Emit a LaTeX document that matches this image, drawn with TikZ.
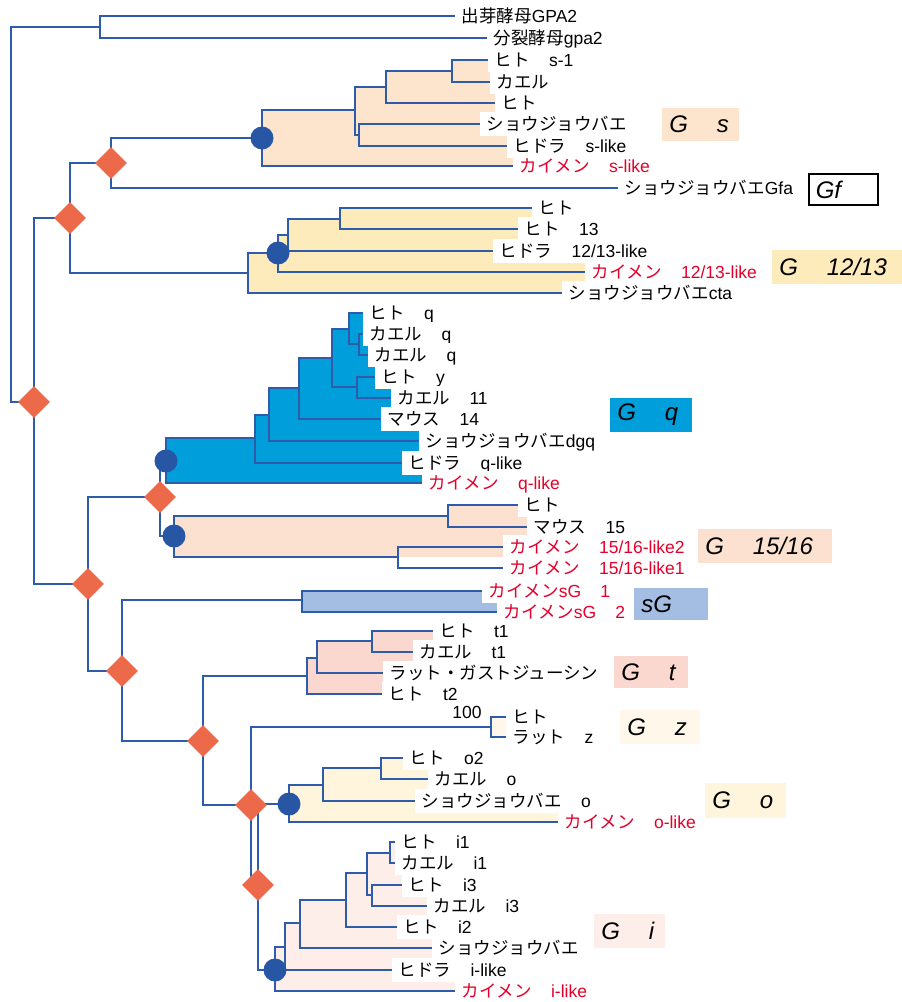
\documentclass[tikz,border=0pt]{standalone}
\usepackage{fontspec}
\setmainfont{Liberation Sans}
\newfontfamily\jp{Noto Sans CJK JP}
\usetikzlibrary{shapes.geometric}
\definecolor{brc}{RGB}{46,92,170}
\definecolor{dia}{RGB}{236,106,74}
\definecolor{cir}{RGB}{38,86,164}
\definecolor{redc}{RGB}{228,0,43}
\definecolor{fGs}{RGB}{252,229,204}
\definecolor{fGtw}{RGB}{254,235,187}
\definecolor{fGq}{RGB}{0,158,219}
\definecolor{fGff}{RGB}{252,224,208}
\definecolor{fsG}{RGB}{163,190,226}
\definecolor{fGt}{RGB}{250,215,207}
\definecolor{fGz}{RGB}{254,247,234}
\definecolor{fGo}{RGB}{255,245,220}
\definecolor{fGi}{RGB}{253,238,234}
\newcommand\jl[2]{{\jp #1}#2}
\newcommand\gapx{\hspace{1.1em}}
\newcommand\brk[5]{\draw[br] (#3,#2) -- (#1,#2) -- (#1,#4) -- (#5,#4);}
\tikzset{
  br/.style={draw=brc,line width=0.8pt},
  lab/.style={anchor=west,fill=white,inner xsep=3.2pt,inner ysep=1.2pt,
    text height=7.8pt,text depth=1.6pt,font=\fontsize{8.75}{10}\selectfont},
  rlab/.style={lab,text=redc},
  tagbox/.style={anchor=west,inner xsep=3.5pt,inner ysep=0pt,align=left,
    font=\fontsize{12}{14}\selectfont\itshape},
  dup/.style={diamond,fill=dia,minimum width=16pt,minimum height=16pt,inner sep=0pt},
  spec/.style={circle,fill=cir,minimum size=11.5pt,inner sep=0pt}
}
\begin{document}
\begin{tikzpicture}[x=0.5pt,y=-0.5pt]
\useasboundingbox (0,0) rectangle (901,1002);
% ---------- fills ----------
\fill[fGs] (262,110) -- (355,110) -- (355,87) -- (386,87) -- (386,71) -- (452,71) -- (452,60) -- (490,60) -- (490,82) -- (495,82) -- (495,124) -- (507,124) -- (507,146) -- (513,146) -- (513,166) -- (262,166) -- cycle;
\fill[fGtw] (248,253) -- (278,253) -- (278,235) -- (288,235) -- (288,219) -- (340,219) -- (340,208) -- (532,208) -- (532,229) -- (518,229) -- (518,251) -- (585,251) -- (585,293) -- (248,293) -- cycle;
\fill[fGq] (166,438) -- (255,438) -- (255,415) -- (269,415) -- (269,388) -- (299,388) -- (299,358) -- (332,358) -- (332,329) -- (349,329) -- (349,313) -- (363,313) -- (363,334) -- (368,334) -- (368,355) -- (375,355) -- (375,377) -- (391,377) -- (391,419) -- (419,419) -- (419,463) -- (422,463) -- (422,483) -- (166,483) -- cycle;
\fill[fGff] (174,516) -- (448,516) -- (448,505) -- (527,505) -- (527,547) -- (503,547) -- (503,557) -- (174,557) -- cycle;
\fill[fsG] (302,591) -- (482,591) -- (482,601) -- (497,601) -- (497,612) -- (302,612) -- cycle;
\fill[fGt] (307,658) -- (317,658) -- (317,641) -- (372,641) -- (372,631) -- (433,631) -- (433,652) -- (413,652) -- (413,673) -- (383,673) -- (383,694) -- (307,694) -- cycle;
\fill[fGz] (491,717) rectangle (506,737);
\fill[fGo] (289,785) -- (323,785) -- (323,768) -- (381,768) -- (381,758) -- (428,758) -- (428,801) -- (558,801) -- (558,822) -- (289,822) -- cycle;
\fill[fGi] (275,947) -- (285,947) -- (285,923) -- (300,923) -- (300,900) -- (346,900) -- (346,873) -- (367,873) -- (367,853) -- (390,853) -- (390,842) -- (395,842) -- (395,863) -- (402,863) -- (402,885) -- (427,885) -- (427,927) -- (432,927) -- (432,970) -- (455,970) -- (455,991) -- (275,991) -- cycle;
% ---------- branches ----------
\brk{11}{27}{100}{402}{34}
\brk{100}{16}{455}{38}{487}
\brk{34}{218}{70}{584}{88}
\brk{70}{163}{111}{273}{248}
\brk{111}{138}{262}{188}{618}
\brk{262}{110}{355}{166}{513}
\brk{355}{87}{386}{135}{359}
\brk{386}{71}{452}{103}{495}
\brk{452}{60}{488}{82}{490}
\brk{359}{124}{480}{146}{507}
\brk{248}{253}{278}{293}{562}
\brk{278}{235}{288}{272}{585}
\brk{288}{219}{340}{251}{493}
\brk{340}{208}{532}{229}{518}
\brk{88}{497}{160}{671}{122}
\brk{160}{461}{166}{536}{174}
\brk{166}{438}{255}{483}{422}
\brk{255}{415}{269}{463}{402}
\brk{269}{388}{299}{441}{419}
\brk{299}{358}{332}{419}{381}
\brk{332}{329}{349}{387}{357}
\brk{349}{313}{363}{344}{359}
\brk{359}{334}{363}{355}{368}
\brk{357}{377}{375}{398}{391}
\brk{174}{516}{448}{557}{398}
\brk{448}{505}{518}{527}{527}
\brk{398}{547}{503}{568}{503}
\brk{122}{600}{302}{741}{203}
\brk{302}{591}{482}{612}{497}
\brk{203}{676}{307}{805}{251}
\brk{307}{658}{317}{694}{382}
\brk{317}{641}{372}{673}{383}
\brk{372}{631}{433}{652}{413}
\brk{251}{727}{491}{885}{258}
\brk{491}{717}{506}{737}{506}
\brk{258}{804}{289}{970}{275}
\brk{289}{785}{323}{822}{558}
\brk{323}{768}{381}{801}{415}
\brk{381}{758}{403}{779}{428}
\brk{275}{947}{285}{991}{455}
\brk{285}{923}{300}{970}{392}
\brk{300}{900}{346}{948}{432}
\brk{346}{873}{367}{927}{397}
\brk{367}{853}{390}{895}{372}
\brk{390}{842}{395}{863}{395}
\brk{372}{885}{402}{906}{427}
% ---------- leaf labels ----------
\node[lab] (y1) at (455,16) {\jl{出芽酵母}{GPA2}};
\node[lab] (y2) at (487,38) {\jl{分裂酵母}{gpa2}};
\node[lab] (s1) at (488,60) {\jl{ヒト}{\gapx s-1}};
\node[lab] (s2) at (490,82) {\jl{カエル}{}};
\node[lab] (s3) at (495,103) {\jl{ヒト}{}};
\node[lab] (s4) at (480,124) {\jl{ショウジョウバエ}{}};
\node[lab] (s5) at (507,146) {\jl{ヒドラ}{\gapx s-like}};
\node[rlab] (s6) at (513,166) {\jl{カイメン}{\gapx s-like}};
\node[lab] (f1) at (618,188) {\jl{ショウジョウバエ}{Gfa}};
\node[lab] (a1) at (532,208) {\jl{ヒト}{}};
\node[lab] (a2) at (518,229) {\jl{ヒト}{\gapx 13}};
\node[lab] (a3) at (493,251) {\jl{ヒドラ}{\gapx 12/13-like}};
\node[rlab] (a4) at (585,272) {\jl{カイメン}{\gapx 12/13-like}};
\node[lab] (a5) at (562,293) {\jl{ショウジョウバエ}{cta}};
\node[lab] (q1) at (363,313) {\jl{ヒト}{\gapx q}};
\node[lab] (q2) at (363,334) {\jl{カエル}{\gapx q}};
\node[lab] (q3) at (368,355) {\jl{カエル}{\gapx q}};
\node[lab] (q4) at (375,377) {\jl{ヒト}{\gapx y}};
\node[lab] (q5) at (391,398) {\jl{カエル}{\gapx 11}};
\node[lab] (q6) at (381,419) {\jl{マウス}{\gapx 14}};
\node[lab] (q7) at (419,441) {\jl{ショウジョウバエ}{dgq}};
\node[lab] (q8) at (402,463) {\jl{ヒドラ}{\gapx q-like}};
\node[rlab] (q9) at (422,483) {\jl{カイメン}{\gapx q-like}};
\node[lab] (p1) at (518,505) {\jl{ヒト}{}};
\node[lab] (p2) at (527,527) {\jl{マウス}{\gapx 15}};
\node[rlab] (p3) at (503,547) {\jl{カイメン}{\gapx 15/16-like2}};
\node[rlab] (p4) at (503,568) {\jl{カイメン}{\gapx 15/16-like1}};
\node[rlab] (g1) at (482,591) {\jl{カイメン}{sG\gapx 1}};
\node[rlab] (g2) at (497,612) {\jl{カイメン}{sG\gapx 2}};
\node[lab] (t1) at (433,631) {\jl{ヒト}{\gapx t1}};
\node[lab] (t2) at (413,652) {\jl{カエル}{\gapx t1}};
\node[lab] (t3) at (383,673) {\jl{ラット・ガストジューシン}{}};
\node[lab] (t4) at (382,694) {\jl{ヒト}{\gapx t2}};
\node[anchor=west,inner sep=0pt,font=\fontsize{8.75}{10}\selectfont] (hund) at (452,712) {100};
\node[lab] (z1) at (506,717) {\jl{ヒト}{}};
\node[lab] (z2) at (506,737) {\jl{ラット}{\gapx z}};
\node[lab] (o1) at (403,758) {\jl{ヒト}{\gapx o2}};
\node[lab] (o2) at (428,779) {\jl{カエル}{\gapx o}};
\node[lab] (o3) at (415,801) {\jl{ショウジョウバエ}{\gapx o}};
\node[rlab] (o4) at (558,822) {\jl{カイメン}{\gapx o-like}};
\node[lab] (i1) at (395,842) {\jl{ヒト}{\gapx i1}};
\node[lab] (i2) at (395,863) {\jl{カエル}{\gapx i1}};
\node[lab] (i3) at (402,885) {\jl{ヒト}{\gapx i3}};
\node[lab] (i4) at (427,906) {\jl{カエル}{\gapx i3}};
\node[lab] (i5) at (397,927) {\jl{ヒト}{\gapx i2}};
\node[lab] (i6) at (432,948) {\jl{ショウジョウバエ}{}};
\node[lab] (i7) at (392,970) {\jl{ヒドラ}{\gapx i-like}};
\node[rlab] (i8) at (455,991) {\jl{カイメン}{\gapx i-like}};
% ---------- family tags ----------
\node[tagbox,fill=fGs,minimum height=16.5pt,text width=31.5pt] (tGs) at (662,124.5) {G\hspace{1.2em}s};
\node[tagbox,draw=black,line width=0.8pt,minimum height=15.5pt,text width=27.5pt] (tGf) at (808,189.5) {Gf};
\node[tagbox,fill=fGtw,minimum height=17pt,text width=59pt] (tGtw) at (772,267) {G\hspace{1.2em}12/13};
\node[tagbox,fill=fGq,minimum height=17pt,text width=34pt] (tGq) at (610,415) {G\hspace{1.2em}q};
\node[tagbox,fill=fGff,minimum height=17pt,text width=60pt] (tGff) at (698,546) {G\hspace{1.2em}15/16};
\node[tagbox,fill=fsG,minimum height=16pt,text width=30pt] (tsG) at (634,604) {sG};
\node[tagbox,fill=fGt,minimum height=16pt,text width=30pt] (tGt) at (614,672) {G\hspace{1.2em}t};
\node[tagbox,fill=fGz,minimum height=17pt,text width=33pt] (tGz) at (620,727) {G\hspace{1.2em}z};
\node[tagbox,fill=fGo,minimum height=17.5pt,text width=33.5pt] (tGo) at (705,800.5) {G\hspace{1.2em}o};
\node[tagbox,fill=fGi,minimum height=17pt,text width=28.5pt] (tGi) at (594,931) {G\hspace{1.2em}i};
% ---------- event markers ----------
\node[dup] (d1) at (34,402) {};
\node[dup] (d2) at (70,218) {};
\node[dup] (d3) at (111,163) {};
\node[dup] (d4) at (160,497) {};
\node[dup] (d5) at (88,584) {};
\node[dup] (d6) at (122,671) {};
\node[dup] (d7) at (203,741) {};
\node[dup] (d8) at (251,805) {};
\node[dup] (d9) at (258,885) {};
\node[spec] (c1) at (262,138) {};
\node[spec] (c2) at (278,253) {};
\node[spec] (c3) at (166,461) {};
\node[spec] (c4) at (174,536) {};
\node[spec] (c5) at (289,804) {};
\node[spec] (c6) at (275,970) {};
\end{tikzpicture}
\end{document}
